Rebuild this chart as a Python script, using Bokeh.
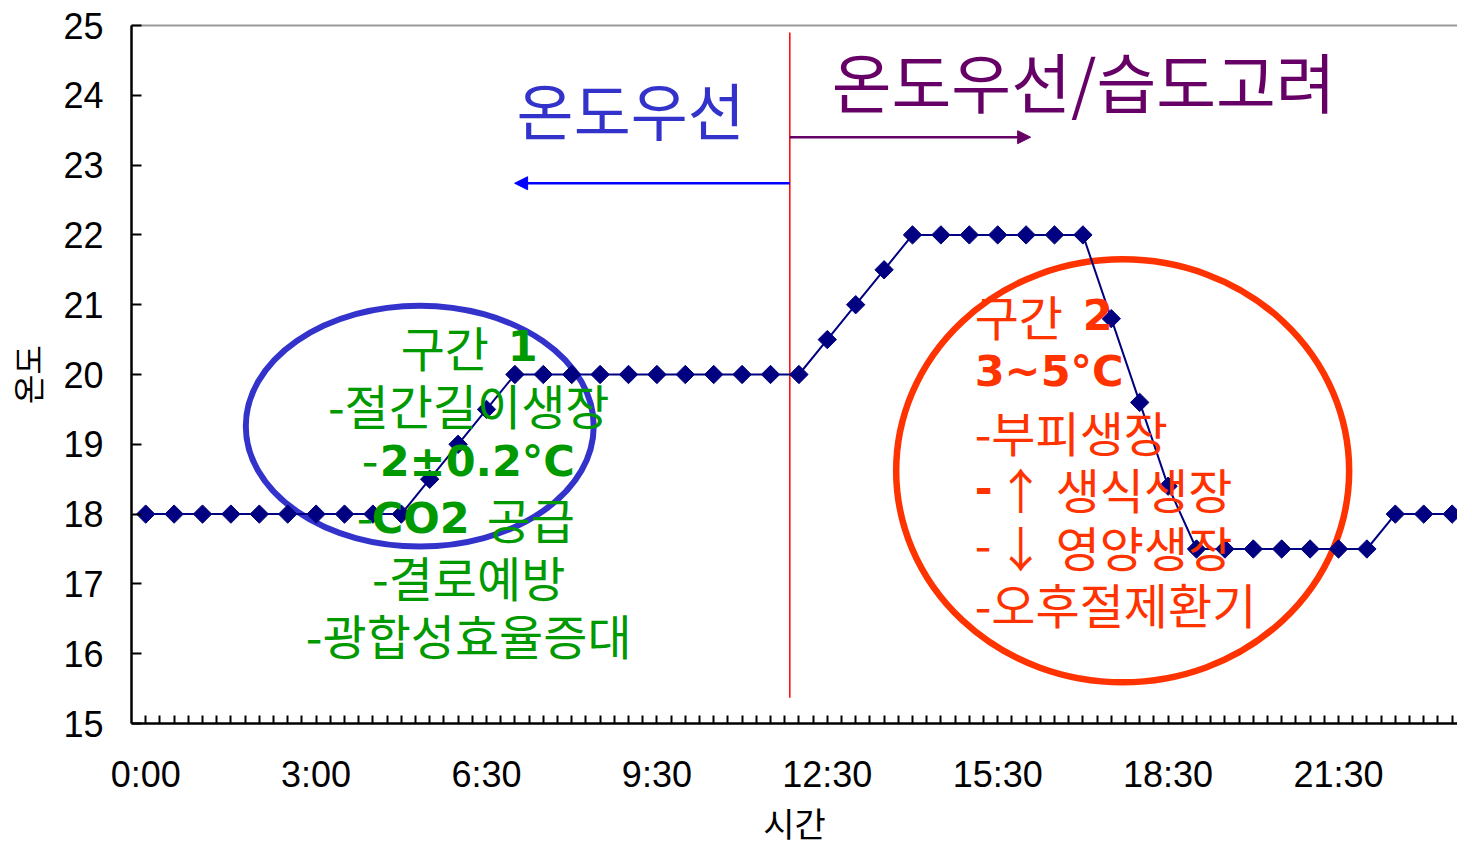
import numpy as np
from bokeh.plotting import figure
from bokeh.models import Range1d, FixedTicker, LinearAxis, Arrow, NormalHead, Label
from bokeh.embed import file_html
from bokeh.resources import INLINE

# Daily greenhouse temperature set-points, one value per half-hour slot
temps = [18, 18, 18, 18, 18, 18, 18, 18, 18, 18,
         18.5, 19, 19.5,
         20, 20, 20, 20, 20, 20, 20, 20, 20, 20, 20,
         20.5, 21, 21.5,
         22, 22, 22, 22, 22, 22, 22,
         20.8, 19.6, 18.4,
         17.5, 17.5, 17.5, 17.5, 17.5, 17.5, 17.5,
         18, 18, 18]
slots = list(range(len(temps)))

# Labelled slots on the time axis
tick_slots = [0, 6, 12, 18, 24, 30, 36, 42]
tick_labels = ["0:00", "3:00", "6:30", "9:30", "12:30", "15:30", "18:30", "21:30"]

y_ticks = [15, 16, 17, 18, 19, 20, 21, 22, 23, 24, 25]

# canvas-pixel helpers for placing annotations
X0, DX = 145.0, 28.4
Y_TOP, PX_PER_DEG = 25.0, 69.8


def cx(px):
    return (px - X0) / DX


def cy(py):
    return 25 - (py - Y_TOP) / PX_PER_DEG


TICK_FONT = "Liberation Sans"
KR = "Noto Sans CJK KR"
BOLD = "DejaVu Sans"

p = figure(width=1457, height=849, output_backend="svg", toolbar_location=None,
           x_range=Range1d(-0.5, 46.19), y_range=Range1d(15, 25),
           min_border_left=131, min_border_right=0, min_border_top=25,
           min_border_bottom=126, outline_line_color=None,
           background_fill_color="white", border_fill_color="white")
p.grid.visible = False

# x axis: a tick at every slot centre and boundary, labels every 6 slots
minor = [i * 0.5 for i in range(0, 94) if (i * 0.5) not in tick_slots]
xa = p.xaxis[0]
xa.ticker = FixedTicker(ticks=tick_slots, minor_ticks=minor)
xa.major_label_overrides = {k: v for k, v in zip(tick_slots, tick_labels)}
xa.axis_line_width = 2.5
xa.axis_line_color = "black"
xa.major_tick_in = 8
xa.major_tick_out = 0
xa.minor_tick_in = 8
xa.minor_tick_out = 0
xa.major_tick_line_width = 2
xa.minor_tick_line_width = 2
xa.major_tick_line_color = "black"
xa.minor_tick_line_color = "black"
xa.major_label_text_font = TICK_FONT
xa.major_label_text_font_size = "36px"
xa.major_label_text_color = "black"
xa.major_label_standoff = 30
xa.axis_label = "시간"
xa.axis_label_text_font = KR
xa.axis_label_text_font_style = "normal"
xa.axis_label_text_font_size = "34px"
xa.axis_label_text_color = "black"
xa.axis_label_standoff = 0

ya = p.yaxis[0]
ya.ticker = FixedTicker(ticks=y_ticks, minor_ticks=[])
ya.axis_line_width = 2.5
ya.axis_line_color = "black"
ya.major_tick_in = 10
ya.major_tick_out = 0
ya.major_tick_line_width = 2
ya.major_tick_line_color = "black"
ya.minor_tick_line_color = None
ya.major_label_text_font = TICK_FONT
ya.major_label_text_font_size = "36px"
ya.major_label_text_color = "black"
ya.major_label_standoff = 28
ya.axis_label = "온도"
ya.axis_label_text_font = KR
ya.axis_label_text_font_style = "normal"
ya.axis_label_text_font_size = "32px"
ya.axis_label_text_color = "black"
ya.axis_label_standoff = 10

# grey top border of the plot area
top = LinearAxis(ticker=FixedTicker(ticks=[]), axis_line_color="#999999",
                 axis_line_width=2, major_tick_line_color=None,
                 minor_tick_line_color=None, major_label_text_font_size="0px")
p.add_layout(top, "above")

# highlighted periods
p.ellipse(x=[9.65], y=[19.26], width=12.25, height=3.45,
          fill_color=None, line_color="#3333CC", line_width=6)
p.ellipse(x=[34.4], y=[18.62], width=15.95, height=6.06,
          fill_color=None, line_color="#FF3300", line_width=6.5)

# divider between the two control regimes
split = 22.68
p.segment(x0=[split], y0=[15.37], x1=[split], y1=[24.9],
          line_color="#FF0000", line_width=1.5)
p.add_layout(Arrow(x_start=split, y_start=22.74, x_end=12.99, y_end=22.74,
                   line_color="#0000FF", line_width=2.5,
                   end=NormalHead(size=13, fill_color="#0000FF",
                                  line_color="#0000FF")))
p.add_layout(Arrow(x_start=split, y_start=23.4, x_end=31.16, y_end=23.4,
                   line_color="#660066", line_width=2.5,
                   end=NormalHead(size=13, fill_color="#660066",
                                  line_color="#660066")))

# temperature curve
p.line(slots, temps, line_color="#000080", line_width=2)
p.scatter(slots, temps, marker="square", angle=np.pi / 4, size=13,
          fill_color="#000080", line_color="#000080")


def label(px, py, text, color, size, font=KR, bold=False, align="left"):
    p.add_layout(Label(x=cx(px), y=cy(py), text=text, text_color=color,
                       text_font=font, text_font_size=size,
                       text_font_style="bold" if bold else "normal",
                       text_align=align, text_baseline="middle"))


label(630, 108, "온도우선", "#3333CC", "62px", align="center")
label(1083, 79, "온도우선/습도고려", "#660066", "65px", align="center")

G = "#009900"
label(400, 345, "구간", G, "48px")
label(507, 345, "1", G, "43px", font=BOLD, bold=True)
label(468, 403, "-절간길이생장", G, "48px", align="center")
label(361, 460, "-", G, "48px")
label(379, 460, "2±0.2°C", G, "43px", font=BOLD, bold=True)
label(356, 517, "-", G, "48px")
label(371, 517, "CO2", G, "43px", font=BOLD, bold=True)
label(486, 517, "공급", G, "48px")
label(468, 575, "-결로예방", G, "48px", align="center")
label(468, 633, "-광합성효율증대", G, "48px", align="center")

R = "#FF3300"
label(974, 314, "구간", R, "48px")
label(1082, 314, "2", R, "43px", font=BOLD, bold=True)
label(974, 370, "3~5°C", R, "43px", font=BOLD, bold=True)
label(974, 430, "-부피생장", R, "48px")
label(974, 487, "-", R, "43px", font=BOLD, bold=True)
label(996, 487, "↑", R, "48px")
label(1055, 487, "생식생장", R, "48px")
label(974, 545, "-", R, "48px")
label(996, 545, "↓", R, "48px")
label(1055, 545, "영양생장", R, "48px")
label(974, 602, "-오후절제환기", R, "48px")

open("out.html", "w").write(file_html(p, INLINE))
